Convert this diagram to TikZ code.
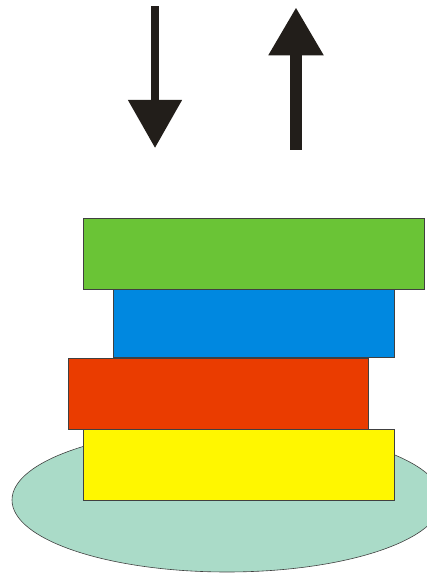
\documentclass[tikz,border=0pt]{standalone}
\usetikzlibrary{arrows.meta,positioning,shapes.geometric}
\definecolor{arrowgray}{HTML}{221E1A}
\definecolor{greenbook}{HTML}{6AC436}
\definecolor{bluebook}{HTML}{0088E0}
\definecolor{redbook}{HTML}{EA3C00}
\definecolor{yellowbook}{HTML}{FFF700}
\definecolor{platecol}{HTML}{AADBC8}
\definecolor{edgegray}{HTML}{404040}

\begin{document}
\begin{tikzpicture}[
            x=1pt, y=1pt,
            book/.style={draw=edgegray, line width=0.6pt, minimum height=70pt, inner sep=0pt, anchor=south west},
            plate/.style={ellipse, draw=edgegray, line width=0.6pt, fill=platecol, minimum width=430pt, minimum height=144pt, inner sep=0pt},
            bigarrow/.style={draw=arrowgray, -{Triangle[width=52pt, length=48pt]}}
        ]
        \useasboundingbox (0,0) rectangle (427,575);

        % plate and the stack of books
        \node[plate] (plate) at (227,75) {};
        \node[book, fill=yellowbook, minimum width=311pt, minimum height=71pt] (yellow) at (83.3,74) {};
        \node[book, fill=redbook, minimum width=300pt, minimum height=71pt] (red) at ([xshift=-15pt]yellow.north west) {};
        \node[book, fill=bluebook, minimum width=281pt, minimum height=68pt] (blue) at ([xshift=45pt]red.north west) {};
        \node[book, fill=greenbook, minimum width=341pt, minimum height=70.5pt] (green) at ([xshift=-30pt]blue.north west) {};

        % arrows
        \coordinate (downstart) at (155,568.5);
        \coordinate (downend) at (155,427);
        \coordinate (upstart) at (296,425);
        \coordinate (upend) at (296,567.7);

        \draw[bigarrow, line width=8pt] (downstart) -- (downend);
        \draw[bigarrow, line width=11.5pt] (upstart) -- (upend);
    \end{tikzpicture}
\end{document}
